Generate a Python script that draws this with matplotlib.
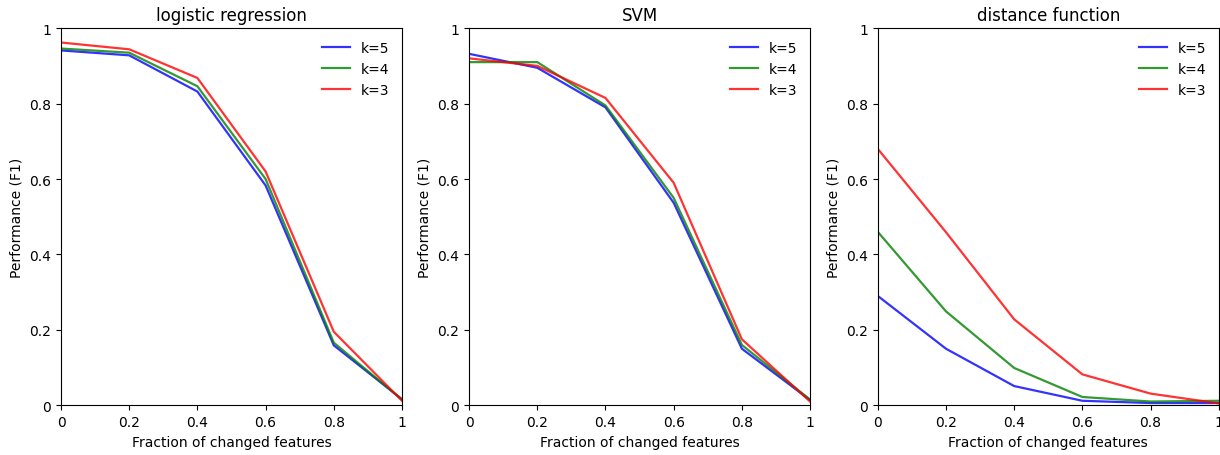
import matplotlib
matplotlib.use("Agg")
import matplotlib.pyplot as plt

# fraction of changed features
fractions = [0, 0.2, 0.4, 0.6, 0.8, 1.0]
tick_labels = ["0", "0.2", "0.4", "0.6", "0.8", "1"]

titles = ["logistic regression", "SVM", "distance function"]
k_labels = ["k=5", "k=4", "k=3"]
colors = ["blue", "green", "red"]

# logistic regression
logreg_k5 = [0.941, 0.928, 0.832, 0.583, 0.159, 0.016]
logreg_k4 = [0.946, 0.935, 0.846, 0.600, 0.166, 0.015]
logreg_k3 = [0.962, 0.944, 0.868, 0.620, 0.195, 0.012]

# SVM
svm_k5 = [0.932, 0.895, 0.790, 0.537, 0.150, 0.014]
svm_k4 = [0.910, 0.910, 0.795, 0.550, 0.160, 0.015]
svm_k3 = [0.920, 0.900, 0.815, 0.590, 0.175, 0.010]

# distance function
dist_k5 = [0.290, 0.150, 0.051, 0.012, 0.006, 0.006]
dist_k4 = [0.460, 0.249, 0.099, 0.022, 0.010, 0.012]
dist_k3 = [0.680, 0.459, 0.228, 0.082, 0.031, 0.005]

results = [
    [logreg_k5, logreg_k4, logreg_k3],
    [svm_k5, svm_k4, svm_k3],
    [dist_k5, dist_k4, dist_k3],
]

fig = plt.figure(figsize=(12.2, 4.56), dpi=100)
lefts = [0.050, 0.3845, 0.7195]
for i, left in enumerate(lefts):
    ax = fig.add_axes([left, 0.109, 0.2795, 0.827])
    for vals, lab, col in zip(results[i], k_labels, colors):
        ax.plot(fractions, vals, color=col, label=lab, linewidth=1.6, alpha=0.8)
    ax.set_xlim(0, 1)
    ax.set_ylim(0, 1)
    ax.set_xticks(fractions)
    ax.set_xticklabels(tick_labels)
    ax.set_yticks(fractions)
    ax.set_yticklabels(tick_labels)
    ax.set_title(titles[i], fontsize=12)
    ax.set_xlabel("Fraction of changed features")
    ax.set_ylabel("Performance (F1)")
    ax.legend(frameon=False, loc="upper right")

fig.savefig("out.png", dpi=100)
